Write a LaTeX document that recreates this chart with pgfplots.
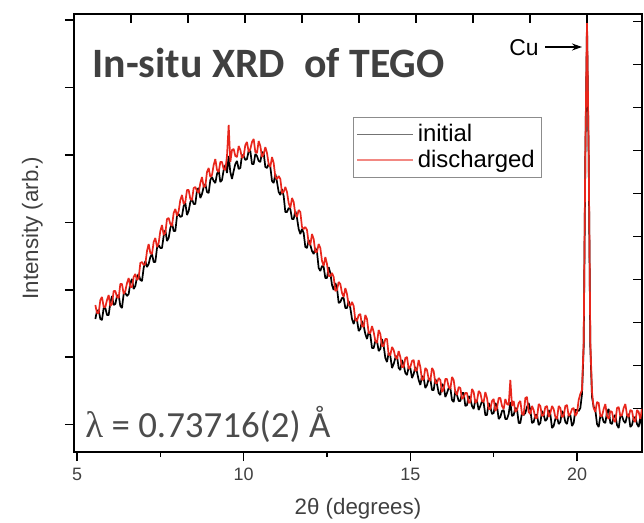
\documentclass[border=0pt]{standalone}
\usepackage{pgfplots}
\pgfplotsset{compat=1.18}
\usepackage{pgfplotstable}
\usepackage{fontspec}
\setmainfont{Liberation Sans}
\newfontfamily\calibri{Carlito}
\newfontfamily\serifgr{Liberation Serif}
\usetikzlibrary{arrows.meta}
\definecolor{xrdred}{RGB}{232,38,28}
\definecolor{txtgray}{RGB}{64,64,64}

% 2theta, initial, discharged (intensity in arbitrary units)
\pgfplotstableread{
x ini dis
5.55 133 147
5.6 141 139
5.65 142 139
5.7 133 152
5.75 132 155
5.8 144 145
5.85 144 145
5.9 137 152
5.95 137 157
6.0 149 146
6.05 156 148
6.1 147 161
6.15 148 161
6.2 156 155
6.25 157 154
6.3 146 168
6.35 144 168
6.4 158 158
6.45 159 161
6.5 156 169
6.55 158 174
6.6 169 165
6.65 173 165
6.7 163 175
6.75 166 178
6.8 175 172
6.85 178 174
6.9 172 189
6.95 171 190
7.0 184 187
7.05 191 188
7.1 185 201
7.15 188 208
7.2 195 199
7.25 198 198
7.3 190 210
7.35 190 214
7.4 204 205
7.45 207 209
7.5 204 221
7.55 204 227
7.6 216 217
7.65 222 219
7.7 211 233
7.75 214 234
7.8 224 228
7.85 229 226
7.9 221 239
7.95 221 243
8.0 236 236
8.05 238 241
8.1 235 252
8.15 236 257
8.2 246 248
8.25 249 250
8.3 237 262
8.35 241 262
8.4 250 253
8.45 253 252
8.5 248 264
8.55 248 265
8.6 262 261
8.65 264 259
8.7 254 269
8.75 258 275
8.8 265 265
8.85 268 266
8.9 260 280
8.95 259 284
9.0 272 275
9.05 275 277
9.1 271 287
9.15 269 293
9.2 278 282
9.25 282 280
9.3 270 290
9.35 272 290
9.4 282 283
9.45 287 282
9.5 279 296
9.55 296 327
9.6 280 290
9.65 273 302
9.7 281 303
9.75 288 296
9.8 291 295
9.85 283 306
9.9 284 302
9.95 297 294
10.0 296 296
10.05 292 307
10.1 293 310
10.15 301 300
10.2 301 303
10.25 288 310
10.3 288 313
10.35 298 300
10.4 296 299
10.45 291 311
10.5 290 306
10.55 300 295
10.6 299 298
10.65 285 305
10.7 284 299
10.75 288 288
10.8 285 285
10.85 271 295
10.9 269 289
10.95 278 275
11.0 270 273
11.05 260 276
11.1 257 273
11.15 263 259
11.2 256 260
11.25 240 265
11.3 240 260
11.35 244 249
11.4 243 244
11.45 233 254
11.5 233 250
11.55 241 238
11.6 234 235
11.65 223 242
11.7 218 240
11.75 223 225
11.8 219 223
11.85 205 225
11.9 204 222
11.95 212 209
12.0 207 207
12.05 201 218
12.1 198 213
12.15 204 200
12.2 200 200
12.25 184 208
12.3 181 204
12.35 186 191
12.4 185 186
12.45 174 195
12.5 174 188
12.55 185 176
12.6 179 176
12.65 167 179
12.7 162 175
12.75 169 161
12.8 164 162
12.85 149 170
12.9 150 168
12.95 154 159
13.0 154 155
13.05 144 164
13.1 144 158
13.15 151 147
13.2 144 146
13.25 133 150
13.3 128 146
13.35 134 132
13.4 132 131
13.45 121 137
13.5 123 138
13.55 131 126
13.6 126 125
13.65 118 137
13.7 113 133
13.75 120 119
13.8 117 119
13.85 104 126
13.9 104 120
13.95 111 111
14.0 111 109
14.05 101 122
14.1 103 118
14.15 113 106
14.2 106 106
14.25 94 113
14.3 90 113
14.35 99 97
14.4 96 97
14.45 84 105
14.5 88 102
14.55 94 95
14.6 96 93
14.65 84 101
14.7 82 95
14.75 92 85
14.8 87 85
14.85 79 94
14.9 77 95
14.95 85 83
15.0 84 85
15.05 74 91
15.1 78 92
15.15 85 81
15.2 80 82
15.25 72 92
15.3 67 85
15.35 76 72
15.4 74 73
15.45 64 84
15.5 67 82
15.55 73 73
15.6 73 71
15.65 62 84
15.7 62 81
15.75 73 69
15.8 68 69
15.85 59 74
15.9 57 72
15.95 68 60
16.0 66 63
16.05 55 73
16.1 59 73
16.15 64 65
16.2 64 63
16.25 52 75
16.3 50 72
16.35 61 60
16.4 57 57
16.45 51 65
16.5 51 64
16.55 59 53
16.6 59 55
16.65 46 59
16.7 47 59
16.75 56 49
16.8 53 50
16.85 46 63
16.9 43 60
16.95 52 49
17.0 51 51
17.05 42 61
17.1 46 59
17.15 51 51
17.2 49 50
17.25 37 60
17.3 37 54
17.35 49 43
17.4 45 43
17.45 38 51
17.5 39 53
17.55 49 41
17.6 46 44
17.65 33 54
17.7 35 54
17.75 41 46
17.8 42 43
17.85 33 53
17.9 33 48
17.95 38 47
18.0 50 72
18.05 36 46
18.1 37 51
18.15 44 40
18.2 43 42
18.25 29 49
18.3 29 51
18.35 39 38
18.4 37 37
18.45 39 54
18.5 45 55
18.55 49 40
18.6 42 38
18.65 29 46
18.7 30 42
18.75 37 34
18.8 37 34
18.85 27 48
18.9 29 46
18.95 41 36
19.0 37 37
19.05 31 45
19.1 33 46
19.15 42 35
19.2 38 39
19.25 24 46
19.3 26 43
19.35 33 35
19.4 35 33
19.45 28 46
19.5 30 44
19.55 41 35
19.6 38 36
19.65 30 46
19.7 28 47
19.75 37 36
19.8 37 38
19.85 26 43
19.9 29 44
19.95 42 36
20.0 42 39
20.05 41 52
20.1 44 58
20.15 58 62
20.2 105 110
20.25 295 300
20.3 428 432
20.35 295 300
20.4 105 110
20.45 55 60
20.5 45 44
20.55 42 40
20.6 28 50
20.65 25 49
20.7 36 36
20.75 36 36
20.8 30 43
20.85 29 48
20.9 40 36
20.95 43 33
21.0 29 41
21.05 28 40
21.1 35 32
21.15 37 30
21.2 27 44
21.25 24 45
21.3 36 36
21.35 36 37
21.4 31 44
21.45 29 48
21.5 36 37
21.55 38 35
21.6 25 42
21.65 27 41
21.7 34 32
21.75 35 30
21.8 28 42
21.85 25 40
21.9 35 33
21.95 25 44
}\xrd

\begin{document}
\begin{tikzpicture}
\useasboundingbox (-37bp,-35.5bp) rectangle (285bp,226bp);
\begin{axis}[
  at={(0,0)}, anchor=south west,
  scale only axis, width=284bp, height=219bp,
  xmin=4.91, xmax=21.95, ymin=0, ymax=438,
  clip mode=individual,
  axis line style={line width=1bp},
  xtick={5,10,15,20}, minor xtick={7.5,12.5,17.5},
  ytick={27.3,94.7,162.1,229.5,296.9,364.3,431.7}, yticklabels={},
  xtick pos=bottom, ytick pos=left, tick align=outside,
  major tick length=4.5bp, minor tick length=2.5bp,
  every tick/.style={black, line width=0.8bp},
  ticklabel style={font=\fontsize{9}{10}\selectfont, text=txtgray},
  /pgf/number format/assume math mode=true,
  legend image code/.code={\draw[#1] (0bp,0bp) -- (28bp,0bp);},
  legend style={at={(axis cs:13.28,335)}, anchor=north west,
    draw=black!45, line width=0.6bp, inner sep=1.5bp, row sep=-1.5bp,
    font=\fontsize{12}{13}\selectfont, cells={anchor=west}},
]
\addplot[black, line width=0.85bp, line join=bevel, forget plot] table[x=x, y=ini] {\xrd};
\addplot[xrdred, line width=0.85bp, line join=bevel, forget plot] table[x=x, y=dis] {\xrd};
\addlegendimage{black!55, line width=0.6bp}
\addlegendentry{initial}
\addlegendimage{xrdred!55, line width=0.6bp}
\addlegendentry{discharged}

\node[anchor=base west, inner sep=0, text=txtgray,
  font=\calibri\bfseries\fontsize{21}{22}\selectfont]
  at (axis cs:5.45,374) {In-situ XRD\ \ of TEGO};
\node[anchor=base west, inner sep=0, text=black!70,
  font=\calibri\fontsize{18.5}{20}\selectfont]
  at (axis cs:5.24,15) {{\serifgr λ} = 0.73716(2) Å};
\node[anchor=base east, inner sep=0, font=\fontsize{11.5}{12}\selectfont]
  at (axis cs:18.86,396) {Cu};
\draw[-{Stealth[length=5bp,width=3.5bp]}, line width=0.6bp]
  (axis cs:19.04,405) -- (axis cs:20.15,405);
\end{axis}

% secondary scales: top and right ticks
\begin{axis}[
  at={(0,0)}, anchor=south west,
  scale only axis, width=284bp, height=219bp,
  xmin=4.91, xmax=21.95, ymin=0, ymax=438,
  axis line style={draw=none},
  xtick={6.62,8.33,10.04,11.75,13.46,15.17,16.88,18.59,20.3}, xticklabels={},
  ytick={43.3,86.3,129.3,172.3,215.3,258.3,301.3,344.3,387.3,430.3}, yticklabels={},
  xtick pos=top, ytick pos=right, tick align=inside,
  major tick length=4.5bp,
  every tick/.style={black, line width=0.8bp},
]
\end{axis}

\node[anchor=base, font=\fontsize{11.2}{12}\selectfont, text=txtgray]
  at (142bp,-31bp) {2θ (degrees)};
\node[anchor=base, rotate=90, font=\fontsize{11.2}{12}\selectfont, text=txtgray]
  at (-18bp,112bp) {Intensity (arb.)};
\end{tikzpicture}
\end{document}
